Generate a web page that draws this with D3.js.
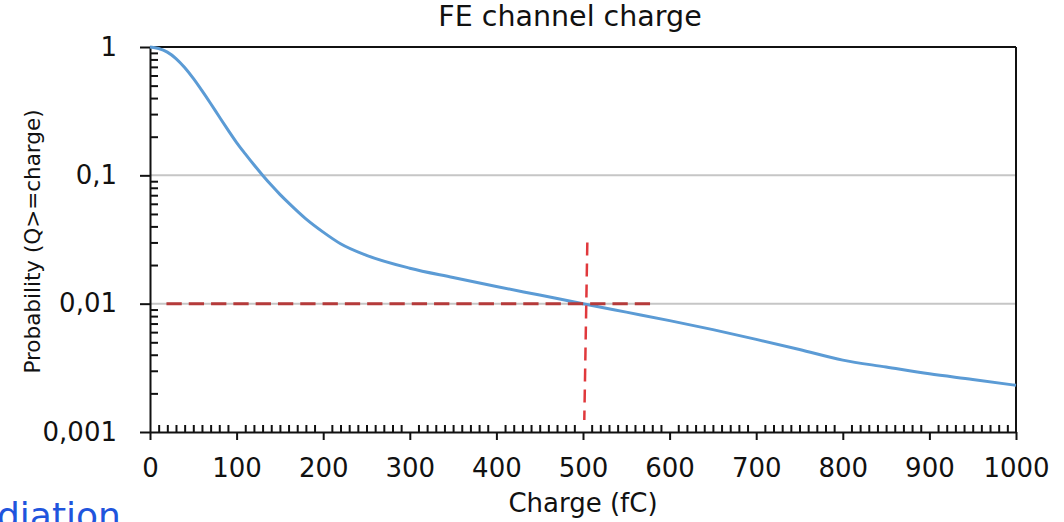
<!DOCTYPE html>
<html>
<head>
<meta charset="utf-8">
<script src="https://cdn.jsdelivr.net/npm/d3@7"></script>
<style>
  html, body { margin: 0; padding: 0; background: #fff; }
  svg { display: block; }
  text { font-family: "DejaVu Sans", sans-serif; fill: #111; }
</style>
</head>
<body>
<svg id="chart" width="1064" height="522"></svg>
<script>
// Cumulative probability that the FE channel charge exceeds a given value
const charge = [0, 10, 20, 30, 40, 50, 60, 70, 80, 90, 100, 110, 120, 130, 140, 150, 160, 180, 200, 220, 250, 300, 350, 400, 450, 500, 550, 600, 650, 700, 750, 800, 850, 900, 950, 1000];
const probability = [1.0, 0.973, 0.912, 0.813, 0.692, 0.569, 0.457, 0.363, 0.286, 0.226, 0.18, 0.1469, 0.1208, 0.1002, 0.0839, 0.0711, 0.061, 0.0458, 0.0361, 0.0293, 0.0238, 0.0189, 0.016, 0.0136, 0.01167, 0.01, 0.00859, 0.00738, 0.00628, 0.00527, 0.00439, 0.00363, 0.00321, 0.00284, 0.00257, 0.00231];

// Reference markers: 1% level and the charge where it is reached
const levelCharge = [19, 578];
const levelProb = [0.01, 0.01];
const cutCharge = [505, 501.5];
const cutProb = [0.030, 0.00124];

const xTicks = [0, 100, 200, 300, 400, 500, 600, 700, 800, 900, 1000];
const yTicks = [1, 0.1, 0.01, 0.001];
const yTickLabels = ["1", "0,1", "0,01", "0,001"];

const svg = d3.select("#chart");
const plotLeft = 150, plotRight = 1016, plotTop = 47, plotBottom = 432;

const x = d3.scaleLinear().domain([0, 1000]).range([plotLeft, plotRight]);
const y = d3.scaleLog().domain([0.001, 1]).range([plotBottom, plotTop]);

// gridlines
svg.append("g")
  .selectAll("line")
  .data([0.1, 0.01])
  .join("line")
  .attr("x1", plotLeft).attr("x2", plotRight)
  .attr("y1", d => y(d)).attr("y2", d => y(d))
  .attr("stroke", "#c6c6c6").attr("stroke-width", 2);

// plot frame (top and right)
svg.append("line").attr("x1", plotLeft).attr("x2", plotRight).attr("y1", y(1)).attr("y2", y(1))
  .attr("stroke", "#111").attr("stroke-width", 2);
svg.append("line").attr("x1", plotRight).attr("x2", plotRight).attr("y1", y(1)).attr("y2", y(0.001))
  .attr("stroke", "#111").attr("stroke-width", 2);

// minor ticks on x (every 10 fC, inside)
const xMinor = d3.range(10, 1000, 10).filter(v => v % 100 !== 0);
svg.append("g")
  .attr("transform", `translate(0,${plotBottom})`)
  .call(d3.axisBottom(x).tickValues(xMinor).tickSize(-7).tickFormat(""))
  .call(g => g.select(".domain").remove())
  .call(g => g.selectAll("line").attr("stroke", "#111").attr("stroke-width", 2));

// minor ticks on y (2..9 per decade, inside)
const yMinor = [];
[0.001, 0.01, 0.1].forEach(d => { for (let k = 2; k <= 9; k++) yMinor.push(d * k); });
svg.append("g")
  .attr("transform", `translate(${plotLeft},0)`)
  .call(d3.axisRight(y).tickValues(yMinor).tickSize(8).tickFormat(""))
  .call(g => g.select(".domain").remove())
  .call(g => g.selectAll("line").attr("stroke", "#111").attr("stroke-width", 2));

// x axis
svg.append("g")
  .attr("transform", `translate(0,${plotBottom})`)
  .call(d3.axisBottom(x).tickValues(xTicks).tickSize(8).tickPadding(20).tickSizeOuter(0)
    .tickFormat(d3.format("d")))
  .call(g => g.select(".domain").attr("stroke", "#111").attr("stroke-width", 2))
  .call(g => g.selectAll(".tick line").attr("stroke", "#111").attr("stroke-width", 2))
  .call(g => g.selectAll(".tick text")
    .attr("font-family", "DejaVu Sans").attr("font-size", 26).attr("fill", "#111")
    .attr("dy", "0.66em"));

// y axis
svg.append("g")
  .attr("transform", `translate(${plotLeft},0)`)
  .call(d3.axisLeft(y).tickValues(yTicks).tickSize(10).tickPadding(23).tickSizeOuter(0)
    .tickFormat((d, i) => yTickLabels[i]))
  .call(g => g.select(".domain").attr("stroke", "#111").attr("stroke-width", 2))
  .call(g => g.selectAll(".tick line").attr("stroke", "#111").attr("stroke-width", 2))
  .call(g => g.selectAll(".tick text")
    .attr("font-family", "DejaVu Sans").attr("font-size", 26).attr("fill", "#111"));

// probability curve
const line = d3.line()
  .x((d, i) => x(charge[i]))
  .y(d => y(d))
  .curve(d3.curveMonotoneX);
svg.append("path")
  .datum(probability)
  .attr("d", line)
  .attr("fill", "none")
  .attr("stroke", "#5b9bd5")
  .attr("stroke-width", 3)
  .attr("stroke-linejoin", "round");

// 1% level (dashed)
const segLine = d3.line().x(d => x(d[0])).y(d => y(d[1]));
svg.append("path")
  .datum(d3.zip(levelCharge, levelProb))
  .attr("d", segLine)
  .attr("fill", "none")
  .attr("stroke", "#b53a3a")
  .attr("stroke-width", 3)
  .attr("stroke-dasharray", "15.3 7");

// crossing charge (dashed)
svg.append("path")
  .datum(d3.zip(cutCharge, cutProb))
  .attr("d", segLine)
  .attr("fill", "none")
  .attr("stroke", "#e0383c")
  .attr("stroke-width", 2.5)
  .attr("stroke-dasharray", "13 8");

// titles
svg.append("text")
  .attr("x", 570).attr("y", 26)
  .attr("text-anchor", "middle")
  .attr("font-size", 28.5)
  .text("FE channel charge");

svg.append("text")
  .attr("x", 583).attr("y", 512)
  .attr("text-anchor", "middle")
  .attr("font-size", 26)
  .text("Charge (fC)");

svg.append("text")
  .attr("transform", `translate(40,${(plotTop + plotBottom) / 2 + 2}) rotate(-90)`)
  .attr("text-anchor", "middle")
  .attr("font-size", 21.5)
  .text("Probability (Q>=charge)");

// slide text below the chart
svg.append("text")
  .attr("x", -3).attr("y", 528)
  .attr("font-family", "Open Sans, sans-serif")
  .attr("font-size", 36)
  .style("fill", "#1f55dd")
  .text("diation");
</script>
</body>
</html>
